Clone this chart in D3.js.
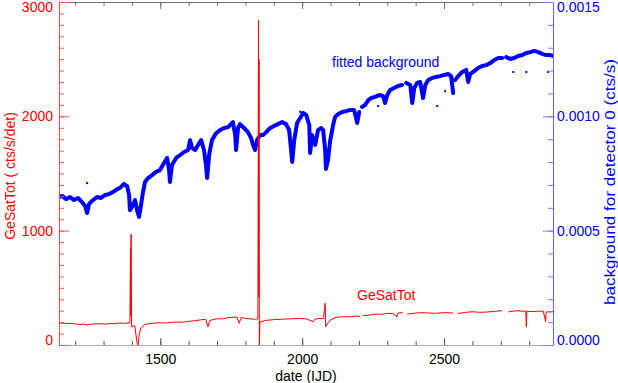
<!DOCTYPE html>
<html>
<head>
<meta charset="utf-8">
<script src="https://cdn.jsdelivr.net/npm/d3@7"></script>
<style>
body{margin:0;background:#fff}
svg{display:block;font-family:"Liberation Sans",Arial,sans-serif}
</style>
</head>
<body>
<div id="chart"></div>
<script>
// GeSatTot (cts/s/det) vs date
const gsDate = [1143,1160,1182,1200,1217,1230,1242,1255,1270,1290,1310,1323,1340,1358,1375,1386,1393,1395,1396,1397,1399,1404,1410,1418,1422,1426,1432,1445,1470,1500,1520,1550,1575,1600,1620,1640,1660,1668,1675,1700,1720,1740,1770,1778,1785,1810,1835,1844,1846,1847,1848,1849,1851,1870,1900,1925,1950,1990,2015,2039,2045,2060,2075,2081,2083,2090,2100,2120,2150,2170,2190,2204,2209,2215,2240,2260,2280,2300,2320,2334,2338,2355,2362,2370,2395,2420,2445,2470,2500,2532,2540,2548,2575,2600,2625,2650,2675,2705,2716,2727,2745,2760,2775,2788,2790,2792,2810,2830,2850,2858,2860,2872,2884];
const gsVal = [192,190,188,185,179,183,175,182,184,186,183,188,186,192,190,192,195,850,250,970,160,160,170,20,0,100,150,180,190,195,192,201,199,207,212,219,225,160,215,230,228,240,245,190,240,230,225,230,2840,420,2500,0,200,215,222,225,228,233,228,204,226,232,230,365,160,190,219,242,248,246,254,250,null,258,262,271,268,277,275,248,280,283,null,270,278,283,280,277,283,280,null,275,285,291,286,288,294,300,null,290,296,300,295,298,160,295,292,296,294,204,290,289,291];

// fitted background (cts/s) vs date
const bgDate = [1143,1154,1168,1182,1196,1210,1224,1235,1242,1249,1263,1277,1291,1305,1319,1333,1348,1358,1372,1383,1390,1393,1404,1411,1418,1425,1432,1439,1446,1457,1471,1485,1499,1513,1524,1531,1534,1541,1556,1570,1584,1598,1605,1612,1623,1633,1644,1654,1661,1665,1672,1682,1697,1711,1725,1739,1749,1756,1764,1767,1774,1781,1795,1809,1820,1827,1834,1841,1852,1862,1873,1887,1901,1915,1929,1943,1954,1961,1965,1972,1982,1993,2003,2014,2025,2028,2035,2046,2056,2067,2074,2081,2084,2091,2099,2109,2116,2127,2141,2155,2169,2183,2194,2201,2206,2211,2222,2233,2243,2257,2271,2285,2292,2300,2310,2324,2338,2352,2360,2367,2381,2388,2395,2405,2416,2426,2434,2444,2458,2472,2486,2500,2515,2525,2532,2536,2539,2550,2564,2578,2585,2592,2606,2620,2634,2649,2663,2677,2691,2705,2712,2719,2733,2747,2761,2776,2790,2804,2818,2832,2846,2860,2874,2884];
const bgVal = [0.000647,0.000652,0.000638,0.000647,0.000634,0.000643,0.000625,0.000608,0.000577,0.000617,0.000634,0.000647,0.000643,0.000656,0.000660,0.000669,0.000682,0.000687,0.000704,0.000695,0.000656,0.000590,0.000612,0.000634,0.000590,0.000560,0.000612,0.000669,0.000713,0.000730,0.000743,0.000757,0.000765,0.000796,0.000818,0.000765,0.000713,0.000787,0.000818,0.000831,0.000844,0.000853,0.000896,0.000861,0.000853,0.000875,0.000896,0.000853,0.000787,0.000730,0.000831,0.000896,0.000927,0.000940,0.000949,0.000953,0.000966,0.000975,0.000918,0.000853,0.000949,0.000966,0.000949,0.000931,0.000905,0.000875,0.000853,0.000896,0.000918,0.000918,0.000931,0.000949,0.000958,0.000966,0.000975,0.000966,0.000940,0.000853,0.000800,0.000896,0.000971,0.000993,0.001015,0.001006,0.000962,0.000840,0.000918,0.000875,0.000940,0.000949,0.000940,0.000853,0.000770,0.000809,0.000896,0.000962,0.000997,0.001010,0.001019,0.001023,0.001028,0.001028,0.000971,0.001019,null,0.001041,0.001050,0.001071,0.001080,0.001085,0.001093,0.001089,0.001058,0.001093,0.001115,0.001124,0.001133,0.001137,null,0.001146,0.001137,0.001058,0.001124,0.001146,0.001150,0.001080,0.001137,0.001159,0.001168,0.001172,0.001176,0.001181,0.001185,0.001176,0.001102,null,0.001159,0.001176,0.001194,0.001203,0.001150,0.001185,0.001198,0.001211,0.001220,0.001224,0.001233,0.001246,0.001255,0.001255,null,0.001259,0.001251,0.001255,0.001264,0.001268,0.001277,0.001281,0.001286,0.001281,0.001273,0.001268,0.001268,0.001264];

// stray background points off the main band
const bgOutDate = [1242,1993,2268,2476,2504,2532,2744,2790,2867];
const bgOutVal = [0.000708,0.00102,0.001045,0.001045,0.00111,0.0011,0.001194,0.001194,0.001194];

const xTicks = [1500,2000,2500];
const gsTicks = [0,1000,2000,3000];
const bgTicks = [0,0.0005,0.001,0.0015];

const width = 618, height = 383;
const mLeft = 59, mRight = 553, mTop = 2, mBottom = 345;

const x = d3.scaleLinear().domain([1143, 2884]).range([mLeft, mRight]);
const yL = d3.scaleLinear().domain([0, 3000]).range([mBottom, mTop]);
const yR = d3.scaleLinear().domain([0, 0.0015]).range([mBottom, mTop]);

const svg = d3.select("#chart").append("svg")
    .attr("width", width)
    .attr("height", height);

svg.append("clipPath").attr("id", "clip")
    .append("rect")
    .attr("x", mLeft).attr("y", mTop)
    .attr("width", mRight - mLeft).attr("height", mBottom - mTop);

const plot = svg.append("g").attr("clip-path", "url(#clip)");

// background band
const bgLine = d3.line()
    .defined(d => d[1] != null)
    .x(d => x(d[0]))
    .y(d => yR(d[1]));

plot.append("path")
    .datum(d3.zip(bgDate, bgVal))
    .attr("d", bgLine)
    .attr("fill", "none")
    .attr("stroke", "#0000ff")
    .attr("stroke-width", 4)
    .attr("stroke-linejoin", "round")
    .attr("stroke-linecap", "round");

plot.selectAll(".out")
    .data(d3.zip(bgOutDate, bgOutVal))
    .enter().append("rect")
    .attr("class", "out")
    .attr("x", d => x(d[0]) - 1)
    .attr("y", d => yR(d[1]) - 1)
    .attr("width", 2).attr("height", 2)
    .attr("fill", "#0000ff");

// GeSatTot line
const gsLine = d3.line()
    .defined(d => d[1] != null)
    .x(d => x(d[0]))
    .y(d => yL(d[1]));

plot.append("path")
    .datum(d3.zip(gsDate, gsVal))
    .attr("d", gsLine)
    .attr("fill", "none")
    .attr("stroke", "#ff0000")
    .attr("stroke-width", 1);

// axes
function styleAxis(g, lineCol, tickCol, textCol) {
    g.select(".domain").attr("stroke", lineCol);
    g.selectAll(".tick line").attr("stroke", tickCol);
    g.selectAll("text").attr("fill", textCol).attr("font-size", 14)
        .attr("font-family", "Liberation Sans, Arial, sans-serif");
}

const minorX = d3.range(1200, 2900, 100);

svg.append("g")
    .attr("transform", `translate(0,${mBottom})`)
    .call(d3.axisBottom(x).tickValues(minorX).tickSizeInner(-4).tickSizeOuter(0).tickFormat(""))
    .call(g => styleAxis(g, "#aaaaaa", "#555", "#000"));
svg.append("g")
    .attr("transform", `translate(0,${mBottom})`)
    .call(d3.axisBottom(x).tickValues(xTicks).tickSizeInner(-7).tickSizeOuter(0).tickPadding(9).tickFormat(d3.format("d")))
    .call(g => styleAxis(g, "none", "#555", "#000"));

svg.append("g")
    .attr("transform", `translate(0,${mTop})`)
    .call(d3.axisTop(x).tickValues(minorX).tickSizeInner(-4).tickSizeOuter(0).tickFormat(""))
    .call(g => styleAxis(g, "#707070", "#707070", "#000"));
svg.append("g")
    .attr("transform", `translate(0,${mTop})`)
    .call(d3.axisTop(x).tickValues(xTicks).tickSizeInner(-7).tickSizeOuter(0).tickFormat(""))
    .call(g => styleAxis(g, "none", "#707070", "#000"));

// left axis (red)
svg.append("g")
    .attr("transform", `translate(${mLeft},0)`)
    .call(d3.axisLeft(yL).tickValues(d3.range(100, 3000, 100)).tickSizeInner(-5).tickSizeOuter(0).tickFormat(""))
    .call(g => styleAxis(g, "#ff4444", "#ff5555", "#ff0000"));
svg.append("g")
    .attr("transform", `translate(${mLeft},0)`)
    .call(d3.axisLeft(yL).tickValues(gsTicks).tickSizeInner(-10).tickSizeOuter(0).tickPadding(6).tickFormat(d3.format("d")))
    .call(g => styleAxis(g, "none", "#ff5555", "#ff0000"))
    .call(g => g.selectAll("text").attr("dy", d => d === 0 ? "-0.05em" : d === 3000 ? "0.7em" : "0.32em"));

// right axis (blue)
svg.append("g")
    .attr("transform", `translate(${mRight},0)`)
    .call(d3.axisRight(yR).tickValues(d3.range(1, 15).map(i => i * 0.0001)).tickSizeInner(-5).tickSizeOuter(0).tickFormat(""))
    .call(g => styleAxis(g, "#6666ff", "#7777ff", "#0000ff"));
svg.append("g")
    .attr("transform", `translate(${mRight},0)`)
    .call(d3.axisRight(yR).tickValues(bgTicks).tickSizeInner(-10).tickSizeOuter(0).tickPadding(4).tickFormat(d3.format(".4f")))
    .call(g => styleAxis(g, "none", "#7777ff", "#0000ff"))
    .call(g => g.selectAll("text").attr("dy", d => d === 0 ? "-0.05em" : d === 0.0015 ? "0.7em" : "0.32em"));

// titles
svg.append("text")
    .attr("x", 306).attr("y", 381)
    .attr("text-anchor", "middle")
    .attr("font-size", 14)
    .text("date (IJD)");

svg.append("text")
    .attr("transform", "translate(15,176) rotate(-90)")
    .attr("text-anchor", "middle")
    .attr("font-size", 14)
    .attr("fill", "#ff0000")
    .text("GeSatTot ( cts/s/det)");

svg.append("text")
    .attr("transform", "translate(615,182) rotate(-90)")
    .attr("text-anchor", "middle")
    .attr("font-size", 15)
    .attr("textLength", 246)
    .attr("lengthAdjust", "spacingAndGlyphs")
    .attr("fill", "#0000ff")
    .text("background for detector 0 (cts/s)");

svg.append("text")
    .attr("x", 332).attr("y", 67)
    .attr("font-size", 14)
    .attr("fill", "#0000ff")
    .text("fitted background");

svg.append("text")
    .attr("x", 357).attr("y", 300)
    .attr("font-size", 14)
    .attr("fill", "#ff0000")
    .text("GeSatTot");
</script>
</body>
</html>
